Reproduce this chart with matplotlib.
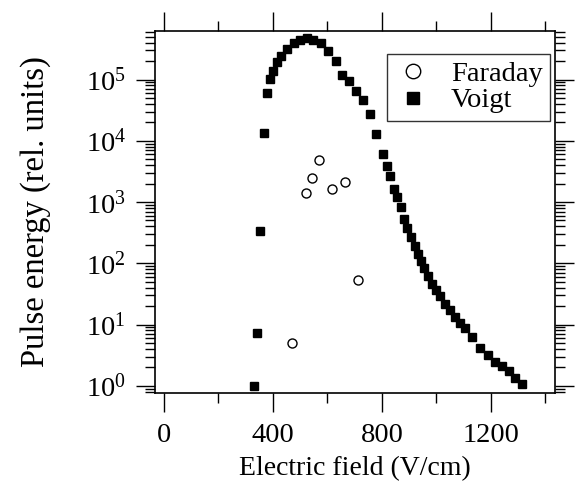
import matplotlib
matplotlib.use("Agg")
import matplotlib.pyplot as plt
from matplotlib.ticker import LogLocator, MultipleLocator

plt.rcParams['font.family'] = ['Liberation Serif', 'DejaVu Serif']
plt.rcParams['mathtext.fontset'] = 'stix'

# Voigt geometry
voigt_field = [331, 342, 353, 368, 377, 390, 402, 416, 429, 451, 476, 500, 525,
               549, 577, 603, 630, 653, 680, 704, 730, 755, 779, 805, 818, 831,
               844, 857, 870, 882, 893, 906, 920, 931, 944, 955, 970, 985, 999,
               1014, 1032, 1051, 1069, 1087, 1106, 1130, 1161, 1190, 1216, 1240,
               1265, 1289, 1314]
voigt_energy = [1.0, 7.3, 340, 1.36e4, 6.0e4, 1.02e5, 1.39e5, 1.91e5, 2.44e5,
                3.2e5, 3.94e5, 4.45e5, 4.75e5, 4.45e5, 3.94e5, 2.98e5, 2.04e5,
                1.19e5, 9.3e4, 6.6e4, 4.66e4, 2.73e4, 1.29e4, 6100, 3890, 2670,
                1650, 1225, 832, 524, 373, 269, 195, 142, 109, 85, 62, 45.9, 36,
                28.7, 21.6, 17.3, 13.3, 10.5, 8.7, 6.3, 4.1, 3.2, 2.47, 2.1, 1.74,
                1.36, 1.07]

# Faraday geometry
faraday_field = [472, 521, 545, 570, 618, 665, 714]
faraday_energy = [5.0, 1390, 2480, 4820, 1660, 2150, 53]

fig = plt.figure(figsize=(5.75, 4.86), dpi=100)
ax = fig.add_axes([0.2696, 0.192, 0.6956, 0.745])

ax.plot(faraday_field, faraday_energy, 'o', mfc='white', mec='black',
        mew=1.0, ms=6.5, label='Faraday')
ax.plot(voigt_field, voigt_energy, 's', color='black', ms=5.4, label='Voigt')

ax.set_yscale('log')
ax.set_xlim(-32, 1435)
ax.set_ylim(0.77, 6.3e5)

ax.xaxis.set_major_locator(MultipleLocator(400))
ax.xaxis.set_minor_locator(MultipleLocator(200))
ax.yaxis.set_major_locator(LogLocator(base=10, numticks=10))
ax.yaxis.set_minor_locator(LogLocator(base=10, subs=range(2, 10), numticks=20))

ax.tick_params(which='both', direction='out', top=True, right=True,
               width=1.0, labelsize=20.5)
ax.tick_params(which='major', length=14)
ax.tick_params(which='minor', length=7)
ax.tick_params(axis='x', pad=8)
ax.tick_params(axis='y', pad=7)

for s in ax.spines.values():
    s.set_linewidth(1.2)

ax.set_xlabel('Electric field (V/cm)', fontsize=20, labelpad=6)
ax.set_ylabel('Pulse energy (rel. units)', fontsize=23.5, labelpad=25)

leg = ax.legend(loc='upper right', bbox_to_anchor=(0.9875, 0.9356),
                borderaxespad=0, fontsize=20.5,
                frameon=True, fancybox=False, edgecolor='black',
                handletextpad=0.7, borderpad=0.25, labelspacing=0.02,
                handlelength=1.3, markerscale=1.6)
leg.get_frame().set_linewidth(1.0)

fig.savefig('out.png', dpi=100)
